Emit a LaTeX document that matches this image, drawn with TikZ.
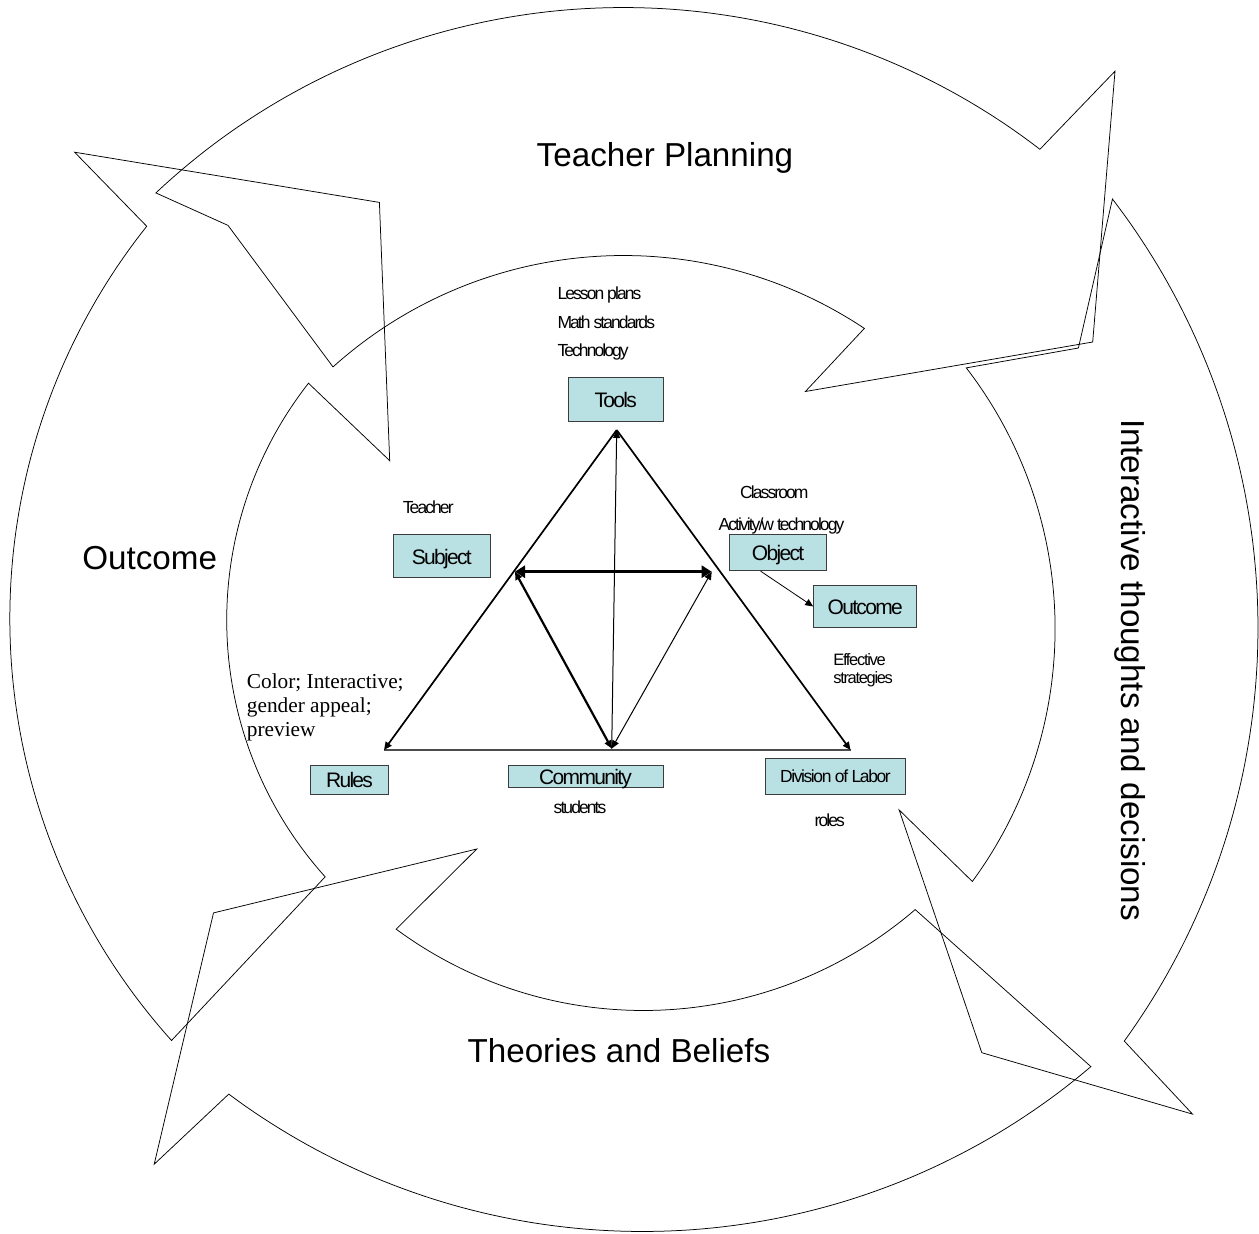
\documentclass[tikz,border=0pt]{standalone}
\usepackage{fontspec}
\setmainfont{Liberation Sans}
\newfontfamily\tightsans[LetterSpace=-8]{Liberation Sans}
\newfontfamily\notesans[LetterSpace=-11]{Liberation Sans}
\newfontfamily\serifnote{Liberation Serif}
\usetikzlibrary{arrows.meta}

\definecolor{boxfill}{RGB}{185,224,227}
\definecolor{boxline}{RGB}{60,60,60}

\begin{document}
\begin{tikzpicture}[x=1pt,y=-1pt,
  ring/.style={draw=black, line width=0.75pt, line join=miter},
  ringlabel/.style={font=\fontsize{33.2}{40}\selectfont, anchor=base, inner sep=0pt},
  cbox/.style={draw=boxline, fill=boxfill, line width=0.9pt, inner sep=0pt,
    font=\tightsans\fontsize{21}{24}\selectfont, text height=16pt, text depth=0pt},
  note/.style={font=\notesans\fontsize{17.5}{20}\selectfont, anchor=base west, inner sep=0pt},
  smallnote/.style={font=\tightsans\fontsize{16.5}{19}\selectfont, anchor=base west, inner sep=0pt},
  serifline/.style={font=\serifnote\fontsize{21.3}{24}\selectfont, anchor=base west, inner sep=0pt},
  headend/.style={-{Triangle[length=8pt,width=7pt]}},
  headboth/.style={{Triangle[length=8pt,width=7pt]}-{Triangle[length=8pt,width=7pt]}},
  bigheads/.style={{Triangle[length=10pt,width=12pt]}-{Triangle[length=10pt,width=12pt]}},
]
\useasboundingbox (0,0) rectangle (1259,1234);

% ---- the four curved arrows of the cycle (annular bands with arrowheads) ----
% Teacher Planning (top, pointing right)
\draw[ring] plot[domain=133.25:52.4, samples=90] ({623.5+682.5*cos(\x)},{690-682.5*sin(\x)})
  -- (1115,71.2) -- (1092.7,342) -- (805.4,391.5)
  -- plot[domain=56.33:131.96, samples=90] ({623.5+434.5*cos(\x)},{690-434.5*sin(\x)})
  -- (228,225.4) -- cycle;
% Interactive thoughts and decisions (right, pointing down)
\draw[ring] plot[domain=37.48:-35.87, samples=90] ({553+705*cos(\x)},{628-705*sin(\x)})
  -- (1192.5,1114.1) -- (981.8,1052.7) -- (899.1,809.9)
  -- plot[domain=-36.25:37.6, samples=90] ({627.6+427.5*cos(\x)},{628.7-427.5*sin(\x)})
  -- (1078.4,348) -- cycle;
% Theories and Beliefs (bottom, pointing left)
\draw[ring] plot[domain=-49.62:-126.73, samples=90] ({642.6+692*cos(\x)},{539.5-692*sin(\x)})
  -- (154.2,1164.2) -- (213.5,912.9) -- (476.8,849)
  -- plot[domain=-126.42:-49.26, samples=90] ({643.4+416.5*cos(\x)},{594-416.5*sin(\x)})
  -- cycle;
% Outcome (left, pointing up)
\draw[ring] plot[domain=221.95:141.54, samples=90] ({640.8+631*cos(\x)},{618.7-631*sin(\x)})
  -- (74.6,152.2) -- (379.4,202.4) -- (389.7,460.7)
  -- plot[domain=141.91:221.96, samples=90] ({610.7+384*cos(\x)},{620.1-384*sin(\x)})
  -- cycle;

% ---- cycle labels ----
\node[ringlabel] (planning) at (665,166) {Teacher Planning};
\node[ringlabel] (outcomering) at (149.7,569.4) {Outcome};
\node[ringlabel] (beliefs) at (618.9,1062.4) {Theories and Beliefs};
\node[ringlabel, rotate=-90] (interactive) at (1121,670) {Interactive thoughts and decisions};

% ---- activity system boxes ----
\node[cbox, minimum width=95pt, minimum height=44.4pt] (tools) at (615.8,399.5) {Tools};
\node[cbox, minimum width=97pt, minimum height=43.4pt] (subject) at (441.8,556) {Subject};
\node[cbox, minimum width=97.4pt, minimum height=36.4pt] (object) at (778,552.5) {Object};
\node[cbox, minimum width=103.1pt, minimum height=42.6pt] (outcome) at (865.2,606.5) {Outcome};
\node[cbox, minimum width=78.1pt, minimum height=29.3pt] (rules) at (349.5,779.7) {Rules};
\node[cbox, minimum width=154.9pt, minimum height=22.3pt] (community) at (585.6,776.2) {Community};
\node[cbox, minimum width=139.3pt, minimum height=36pt, font=\tightsans\fontsize{17.5}{20}\selectfont, text height=13pt] (division) at (835.4,776.3) {Division of Labor};

% ---- notes ----
\node[note] (lesson) at (557.3,299.3) {Lesson plans};
\node[note] (standards) at (557.3,328.3) {Math standards};
\node[note] (technology) at (557.3,356) {Technology};
\node[note] (teacher) at (402.7,513.3) {Teacher};
\node[note] (classroom) at (740,498.3) {Classroom};
\node[note] (activity) at (718.3,530) {Activity/w technology};
\node[smallnote] (effective) at (833.1,665) {Effective};
\node[smallnote] (strategies) at (833.1,683) {strategies};
\node[note] (students) at (553.5,813.8) {students};
\node[note] (roles) at (814.4,826.3) {roles};
\node[serifline] (colorline) at (246.7,688.5) {Color; Interactive;};
\node[serifline] (genderline) at (246.7,712.5) {gender appeal;};
\node[serifline] (previewline) at (246.7,736.7) {preview};

% ---- triangle of mediating relations ----
\coordinate (apex) at (616.7,430);
\coordinate (lb) at (384,750);
\coordinate (mb) at (611.7,748.5);
\coordinate (rb) at (850.5,750);
\coordinate (lm) at (515,571.7);
\coordinate (rm) at (711.7,571.7);

\draw[draw=black!70, line width=1.5pt] (lb) -- (rb);
\draw[headend, line width=1.7pt] (apex) -- (lb);
\draw[headend, line width=1.7pt] (apex) -- (rb);
\draw[headend, line width=1pt] (mb) -- (apex);
\draw[bigheads, line width=3pt] (lm) -- (rm);
\draw[headboth, line width=2.2pt] (lm) -- (mb);
\draw[headboth, line width=1pt] (rm) -- (mb);
\draw[headend, line width=0.8pt] ([xshift=-17.4pt]object.south) -- (outcome.west);
\end{tikzpicture}
\end{document}
